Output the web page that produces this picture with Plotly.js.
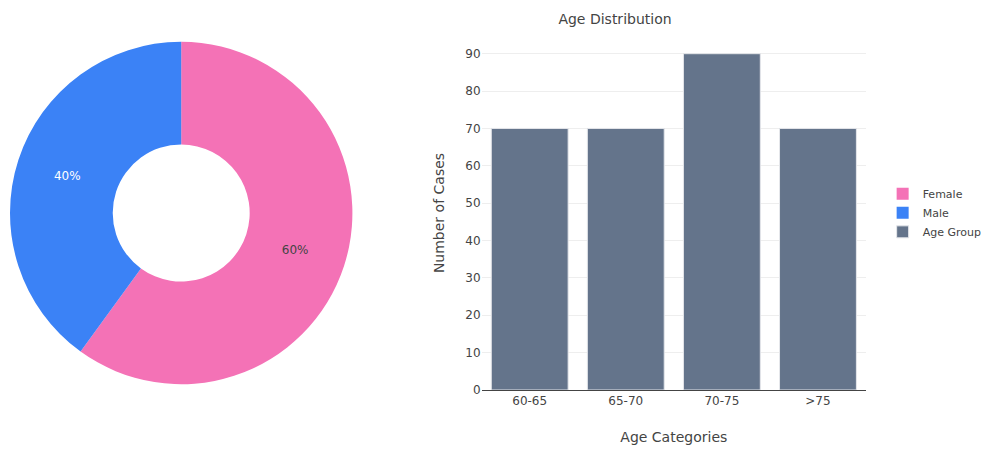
<!DOCTYPE html>
<html>
<head>
<meta charset="utf-8">
<script src="https://cdn.plot.ly/plotly-3.0.1.min.js"></script>
<style>html,body{margin:0;padding:0;background:#fff;}#chart{width:984px;height:450px;}</style>
</head>
<body>
<div id="chart"></div>
<script>
const genderLabels = ["Female", "Male"];
const genderValues = [60, 40];
const genderColors = ["#f472b6", "#3b82f6"];

const ageCategories = ["60-65", "65-70", "70-75", ">75"];
const ageCounts = [70, 70, 90, 70];
const ageColor = "#64748b";

const FONT = "DejaVu Sans, Verdana, sans-serif";

const traces = [
  {
    type: "pie",
    labels: genderLabels,
    values: genderValues,
    hole: 0.4,
    sort: false,
    direction: "clockwise",
    rotation: 0,
    textinfo: "percent",
    textposition: "inside",
    marker: {colors: genderColors},
    domain: {x: [0, 0.4], y: [0, 1]},
    textfont: {size: 12}
  },
  {
    type: "bar",
    name: "Age Group",
    x: ageCategories,
    y: ageCounts,
    marker: {color: ageColor, line: {color: "#e5e7eb", width: 1}},
    xaxis: "x",
    yaxis: "y"
  }
];

const layout = {
  width: 984,
  height: 450,
  font: {family: FONT, size: 12, color: "#444"},
  paper_bgcolor: "#fff",
  plot_bgcolor: "#fff",
  margin: {l: 10, r: 118, t: 36, b: 60},
  title: {text: "Age Distribution", x: 0.625, xanchor: "center", y: 0.958, yanchor: "middle", font: {size: 14, family: FONT, color: "#444"}},
  bargap: 0.2,
  xaxis: {
    domain: [0.551, 1],
    title: {text: "Age Categories", font: {size: 14}},
    showline: true,
    linecolor: "#444",
    linewidth: 1,
    showgrid: false,
    tickfont: {size: 12}
  },
  yaxis: {
    title: {text: "Number of Cases", font: {size: 14}},
    gridcolor: "#eeeeee",
    zeroline: false,
    tickfont: {size: 12},
    dtick: 10
  },
  legend: {xref: "container", yref: "container", x: 0.897, xanchor: "left", y: 0.527, yanchor: "middle", font: {size: 11}},
  showlegend: true
};

Plotly.newPlot("chart", traces, layout, {displayModeBar: false, staticPlot: true});
</script>
</body>
</html>
